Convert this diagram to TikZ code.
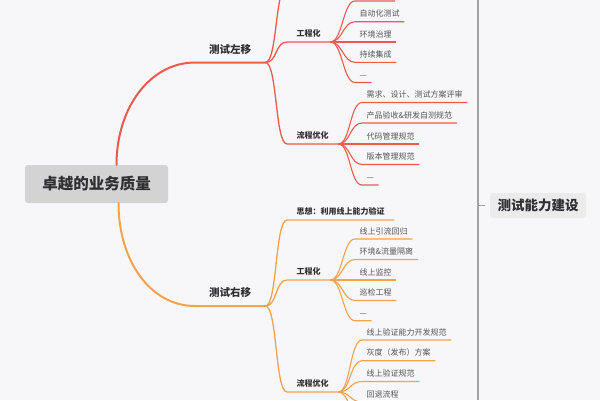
\documentclass[tikz,border=0pt]{standalone}
\usepackage{fontspec}
\setmainfont{Noto Sans CJK SC}
\definecolor{paper}{HTML}{F7F7F9}
\definecolor{leftred}{HTML}{EC5B50}
\definecolor{rightorange}{HTML}{F3A24E}
\definecolor{spinegray}{HTML}{A3A3A3}
\definecolor{rootgray}{HTML}{D3D3D3}
\definecolor{capgray}{HTML}{EBEBEC}
\definecolor{inkdark}{HTML}{2E2E33}
\definecolor{inkleaf}{HTML}{55555A}
\begin{document}
\begin{tikzpicture}[x=1pt,y=-1pt,
  rootbox/.style={fill=rootgray,rounded corners=3pt,minimum width=143pt,minimum height=38pt,inner sep=0pt,text=inkdark,font=\fontsize{15.5}{16}\selectfont\bfseries},
  capbox/.style={fill=capgray,rounded corners=3pt,minimum width=96pt,minimum height=25pt,inner sep=0pt,text=inkdark,font=\fontsize{13.5}{14}\selectfont\bfseries},
  lvlone/.style={anchor=south west,inner xsep=14pt,inner ysep=8pt,text=inkdark,font=\fontsize{10.5}{11}\selectfont\bfseries},
  lvltwo/.style={anchor=south west,inner xsep=9.5pt,inner ysep=4.4pt,text=inkdark,font=\fontsize{8}{9}\selectfont\bfseries},
  leaf/.style={anchor=south west,inner xsep=4.5pt,inner ysep=3.9pt,text=inkleaf,font=\fontsize{8}{9}\selectfont},
  trunk/.style={line width=2pt,line cap=round},
  limb/.style={line width=1.3pt},
  twig/.style={line width=1.1pt}]
\fill[paper] (0,0) rectangle (600,400);
\useasboundingbox (0,0) rectangle (600,400);
\clip (0,0) rectangle (600,400);
% centre and right side
\node[rootbox] (root) at (96.5,184) {卓越的业务质量};
\node[capbox] (cap) at (538,205.5) {测试能力建设};
\coordinate (spinetop) at (478,0);
\coordinate (spinebot) at (478,400);
\coordinate (spinemid) at (478,205.5);
\draw[spinegray,line width=1.4pt] (spinetop) -- (spinebot);
\draw[spinegray,line width=1.2pt] (spinemid) -- ([xshift=-5pt]cap.west);
% topics
\node[lvlone] (left) at (195,62.5) {测试左移};
\node[lvlone] (right) at (195,306) {测试右移};
\coordinate (lefttop) at (287,-14);
\node[lvltwo] (leng) at (287,42) {工程化};
\node[lvltwo] (lflow) at (287,144) {流程优化};
\node[lvltwo] (rmind) at (287,220) {思想：利用线上能力验证};
\node[lvltwo] (reng) at (287,280) {工程化};
\node[lvltwo] (rflow) at (287,392) {流程优化};
% leaves
\coordinate (leng0) at (355,1);
\coordinate (leng0end) at (395,1);
\node[leaf] (leng1) at (355,21.7) {自动化测试};
\node[leaf] (leng2) at (355,42) {环境治理};
\node[leaf] (leng3) at (355,62.3) {持续集成};
\node[leaf] (leng4) at (355,82.5) {—};
\node[leaf] (lflow1) at (362,102.5) {需求、设计、测试方案评审};
\node[leaf] (lflow2) at (362,123) {产品验收\&研发自测规范};
\node[leaf] (lflow3) at (362,144) {代码管理规范};
\node[leaf] (lflow4) at (362,164.5) {版本管理规范};
\node[leaf] (lflow5) at (362,185) {—};
\node[leaf] (reng1) at (355,239) {线上引流回归};
\node[leaf] (reng2) at (355,259.5) {环境\&流量隔离};
\node[leaf] (reng3) at (355,280) {线上监控};
\node[leaf] (reng4) at (355,300.5) {巡检工程};
\node[leaf] (reng5) at (355,320.7) {—};
\node[leaf] (rflow1) at (362,340) {线上验证能力开发规范};
\node[leaf] (rflow2) at (362,360.7) {灰度（发布）方案};
\node[leaf] (rflow3) at (362,381.5) {线上验证规范};
\node[leaf] (rflow4) at (362,402) {回退流程};
\coordinate (rflow5) at (362,423);
% left branch
\draw[trunk,leftred] ([xshift=20pt]root.north) .. controls +(0,-57) and +(-45,0) .. (left.south west) -- (left.south east);
\draw[limb,leftred] (left.south east) .. controls +(12,0) and +(-12,0) .. (lefttop);
\draw[limb,leftred] (left.south east) .. controls +(12,0) and +(-12,0) .. (leng.south west) -- (leng.south east);
\draw[limb,leftred] (left.south east) .. controls +(12,0) and +(-12,0) .. (lflow.south west) -- (lflow.south east);
\draw[twig,leftred] (leng.south east) .. controls +(12,0) and +(-12,0) .. (leng0) -- (leng0end);
\draw[twig,leftred] (leng.south east) .. controls +(12,0) and +(-12,0) .. (leng1.south west) -- (leng1.south east);
\draw[twig,leftred] (leng.south east) .. controls +(12,0) and +(-12,0) .. (leng2.south west) -- (leng2.south east);
\draw[twig,leftred] (leng.south east) .. controls +(12,0) and +(-12,0) .. (leng3.south west) -- (leng3.south east);
\draw[twig,leftred] (leng.south east) .. controls +(12,0) and +(-12,0) .. (leng4.south west) -- (leng4.south east);
\draw[twig,leftred] (lflow.south east) .. controls +(12,0) and +(-12,0) .. (lflow1.south west) -- (lflow1.south east);
\draw[twig,leftred] (lflow.south east) .. controls +(12,0) and +(-12,0) .. (lflow2.south west) -- (lflow2.south east);
\draw[twig,leftred] (lflow.south east) .. controls +(12,0) and +(-12,0) .. (lflow3.south west) -- (lflow3.south east);
\draw[twig,leftred] (lflow.south east) .. controls +(12,0) and +(-12,0) .. (lflow4.south west) -- (lflow4.south east);
\draw[twig,leftred] (lflow.south east) .. controls +(12,0) and +(-12,0) .. (lflow5.south west) -- (lflow5.south east);
% right branch
\draw[trunk,rightorange] ([xshift=22pt]root.south) .. controls +(0,57) and +(-45,0) .. (right.south west) -- (right.south east);
\draw[limb,rightorange] (right.south east) .. controls +(12,0) and +(-12,0) .. (rmind.south west) -- (rmind.south east);
\draw[limb,rightorange] (right.south east) .. controls +(12,0) and +(-12,0) .. (reng.south west) -- (reng.south east);
\draw[limb,rightorange] (right.south east) .. controls +(12,0) and +(-12,0) .. (rflow.south west) -- (rflow.south east);
\draw[twig,rightorange] (reng.south east) .. controls +(12,0) and +(-12,0) .. (reng1.south west) -- (reng1.south east);
\draw[twig,rightorange] (reng.south east) .. controls +(12,0) and +(-12,0) .. (reng2.south west) -- (reng2.south east);
\draw[twig,rightorange] (reng.south east) .. controls +(12,0) and +(-12,0) .. (reng3.south west) -- (reng3.south east);
\draw[twig,rightorange] (reng.south east) .. controls +(12,0) and +(-12,0) .. (reng4.south west) -- (reng4.south east);
\draw[twig,rightorange] (reng.south east) .. controls +(12,0) and +(-12,0) .. (reng5.south west) -- (reng5.south east);
\draw[twig,rightorange] (rflow.south east) .. controls +(12,0) and +(-12,0) .. (rflow1.south west) -- (rflow1.south east);
\draw[twig,rightorange] (rflow.south east) .. controls +(12,0) and +(-12,0) .. (rflow2.south west) -- (rflow2.south east);
\draw[twig,rightorange] (rflow.south east) .. controls +(12,0) and +(-12,0) .. (rflow3.south west) -- (rflow3.south east);
\draw[twig,rightorange] (rflow.south east) .. controls +(12,0) and +(-12,0) .. (rflow4.south west) -- (rflow4.south east);
\draw[twig,rightorange] (rflow.south east) .. controls +(12,0) and +(-12,0) .. (rflow5);
\end{tikzpicture}
\end{document}
